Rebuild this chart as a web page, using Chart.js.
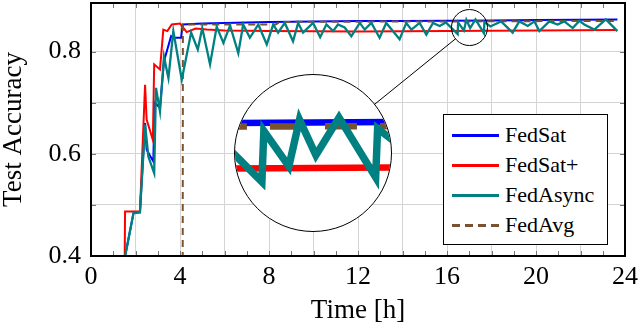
<!DOCTYPE html>
<html>
<head>
<meta charset="utf-8">
<script src="https://cdn.jsdelivr.net/npm/chart.js@4/dist/chart.umd.min.js"></script>
<style>
  html, body { margin:0; padding:0; background:#fff; }
  #wrap { position:relative; width:640px; height:326px; }
  #spy { position:absolute; border:1.5px solid #000; border-radius:50%; overflow:hidden; background:#fff; }
  #spy canvas { position:absolute; left:0; top:0; }
  #legend { position:absolute; left:443px; top:114px; width:163px; height:129px; border:1.5px solid #000; background:#fff;
            font-family:'Liberation Serif', 'Times New Roman'; font-size:22px; color:#000; }
  .row { position:absolute; left:7.5px; height:30px; display:flex; align-items:center; white-space:nowrap; }
  .sw { width:47px; height:3px; margin-right:6.5px; }
</style>
</head>
<body>
<div id="wrap">
  <canvas id="c" width="640" height="326"></canvas>
  <div id="spy"><canvas id="z"></canvas></div>
  <div id="legend"></div>
</div>
<script>
// series names / colours
const names  = ['FedSat', 'FedSat+', 'FedAsync', 'FedAvg'];
const colors = ['#0000ff', '#ff0000', '#008080', '#7a5230'];

// time [h] / test accuracy
const fedSatT = [1.49,1.91,2.2,2.43,2.5,2.8,2.86,3.1,3.28,3.6,3.7,4.05,4.12,5,6,8,10,12,14,16,18,20,22,23.66];
const fedSatA = [0.39,0.484,0.486,0.66,0.608,0.585,0.70,0.69,0.781,0.83,0.827,0.827,0.853,0.855,0.856,0.858,0.859,0.86,0.86,0.8605,0.861,0.8615,0.862,0.8625];

const fedSatPT = [1.5,1.53,2.2,2.43,2.5,2.78,2.84,3.1,3.25,3.43,3.63,4.0,4.3,4.7,5.2,6,8,12,16,20,23.6];
const fedSatPA = [0.3,0.487,0.487,0.735,0.667,0.627,0.775,0.765,0.843,0.84,0.853,0.855,0.838,0.845,0.843,0.841,0.84,0.839,0.84,0.841,0.842];

const fedAsyncT = [1.49,1.91,2.2,2.43,2.58,2.84,2.92,3.1,3.28,3.48,3.7,4.08,4.5,4.8,5.0,5.35,5.65,5.95,6.25,6.62,6.84,7.14,7.52,7.9,8.19,8.41,8.71,9.08,9.31,9.53,9.98,10.3,10.58,10.88,11.1,11.4,11.7,12.08,12.3,12.6,12.97,13.27,13.87,14.17,14.4,14.77,15.07,15.37,15.67,15.95,16.48,16.5,16.76,16.87,17.04,17.28,17.66,17.68,17.95,18.43,18.95,19.25,19.63,19.93,20.15,20.6,20.97,21.27,21.65,21.95,22.17,22.62,23.14,23.66];
const fedAsyncA = [0.39,0.484,0.485,0.657,0.594,0.562,0.729,0.683,0.79,0.748,0.84,0.745,0.837,0.804,0.846,0.775,0.849,0.817,0.851,0.797,0.853,0.827,0.853,0.814,0.853,0.837,0.856,0.82,0.856,0.837,0.856,0.828,0.853,0.84,0.853,0.847,0.83,0.856,0.843,0.856,0.827,0.856,0.824,0.856,0.843,0.856,0.833,0.856,0.85,0.857,0.834,0.857,0.841,0.862,0.846,0.863,0.836,0.858,0.849,0.859,0.837,0.859,0.85,0.859,0.84,0.859,0.853,0.859,0.846,0.86,0.853,0.843,0.863,0.84];

const fedAvgT = [4.12,4.13,6,8.3,8.5,12,17,20,23.5];
const fedAvgA = [0.3,0.853,0.853,0.853,0.858,0.8585,0.859,0.8595,0.86];

// axis ranges
const xMin = 0, xMax = 24, yMin = 0.4, yMax = 0.895;
// spy glass: watched spot, lens position, small radius, magnification
const spyAt = [17.01, 0.847];
const spyOn = [10, 0.6];
const spyR = 18, spyZoom = 4.33;

const SERIF = "'Liberation Serif', 'Times New Roman'";
const GRID = '#d4d4d4';

const pts = (t, a) => t.map((v, i) => ({x: v, y: a[i]}));
const seriesData = [pts(fedSatT, fedSatA), pts(fedSatPT, fedSatPA), pts(fedAsyncT, fedAsyncA), pts(fedAvgT, fedAvgA)];
const drawOrder = [3, 2, 0, 1]; // teal on top, then brown, red, blue

function makeSets(w, dash) {
  return seriesData.map((d, i) => ({
    label: names[i], data: d, borderColor: colors[i], backgroundColor: colors[i],
    borderWidth: i === 2 ? w * 1.15 : w, borderDash: i === 3 ? dash : [],
    pointRadius: 0, tension: 0, fill: false, order: drawOrder[i]
  }));
}

const frame = {
  id: 'frame',
  afterDatasetsDraw(chart) {
    const {ctx, chartArea: a, scales: {x, y}} = chart;
    ctx.save();
    // inward tick marks
    ctx.strokeStyle = '#777'; ctx.lineWidth = 1;
    ctx.beginPath();
    for (let h = xMin + 1; h < xMax; h++) {
      const px = Math.round(x.getPixelForValue(h)) + 0.5;
      ctx.moveTo(px, a.bottom); ctx.lineTo(px, a.bottom - 5);
      ctx.moveTo(px, a.top); ctx.lineTo(px, a.top + 5);
    }
    for (let k = 5; k <= 8; k++) {
      const py = Math.round(y.getPixelForValue(k / 10)) + 0.5;
      ctx.moveTo(a.left, py); ctx.lineTo(a.left + 5, py);
      ctx.moveTo(a.right, py); ctx.lineTo(a.right - 5, py);
    }
    ctx.stroke();
    // box
    ctx.strokeStyle = '#000'; ctx.lineWidth = 2;
    ctx.strokeRect(a.left, a.top, a.right - a.left, a.bottom - a.top);
    // spy circle and connector
    const sx = x.getPixelForValue(spyAt[0]), sy = y.getPixelForValue(spyAt[1]);
    const bx = x.getPixelForValue(spyOn[0]), by = y.getPixelForValue(spyOn[1]);
    const R = spyR * spyZoom;
    const dx = bx - sx, dy = by - sy, L = Math.hypot(dx, dy);
    ctx.lineWidth = 1;
    ctx.beginPath(); ctx.arc(sx, sy, spyR, 0, Math.PI * 2); ctx.stroke();
    ctx.beginPath();
    ctx.moveTo(sx + dx / L * spyR, sy + dy / L * spyR);
    ctx.lineTo(bx - dx / L * R, by - dy / L * R);
    ctx.stroke();
    ctx.restore();
  }
};

const main = new Chart(document.getElementById('c'), {
  type: 'line',
  data: {datasets: makeSets(2, [7, 5])},
  options: {
    responsive: false, animation: false,
    layout: {padding: {top: 3, right: 15, left: 0, bottom: 0}},
    plugins: {legend: {display: false}, tooltip: {enabled: false}},
    scales: {
      x: {
        type: 'linear', min: xMin, max: xMax,
        afterFit: s => { s.height = 70; s.paddingLeft = 0; s.paddingRight = 0; },
        border: {display: false},
        grid: {color: c => (c.tick && c.tick.value % 2 === 0) ? GRID : 'rgba(0,0,0,0)', drawTicks: false},
        ticks: {stepSize: 1, autoSkip: false, maxRotation: 0, padding: 6, color: '#000',
                font: {family: SERIF, size: 26}, callback: v => v % 4 === 0 ? String(v) : ''},
        title: {display: true, text: 'Time [h]', color: '#000', font: {family: SERIF, size: 27, lineHeight: 1}, padding: {top: 0, bottom: 2}}
      },
      y: {
        type: 'linear', min: yMin, max: yMax,
        afterFit: s => { s.width = 91; s.paddingTop = 0; s.paddingBottom = 0; },
        border: {display: false},
        grid: {color: c => {
          const v = c.tick ? c.tick.value * 10 : 0.5;
          return Math.abs(v - Math.round(v)) < 1e-6 ? GRID : 'rgba(0,0,0,0)';
        }, drawTicks: false},
        ticks: {stepSize: 0.1, autoSkip: false, padding: 10, color: '#000', font: {family: SERIF, size: 26},
                callback: v => {
                  const k = Math.round(v * 10);
                  return (Math.abs(v * 10 - k) < 1e-6 && k % 2 === 0) ? (k / 10).toFixed(1) : '';
                }},
        title: {display: true, text: 'Test Accuracy', color: '#000', font: {family: SERIF, size: 27, lineHeight: 1}, padding: 0}
      }
    }
  },
  plugins: [frame]
});

// magnified lens
(function () {
  const x = main.scales.x, y = main.scales.y;
  const R = spyR * spyZoom;
  const cx = x.getPixelForValue(spyOn[0]), cy = y.getPixelForValue(spyOn[1]);
  const hx = R / ((x.right - x.left) / (xMax - xMin) * spyZoom);
  const hy = R / ((y.bottom - y.top) / (yMax - yMin) * spyZoom);
  const size = Math.round(2 * R);
  const div = document.getElementById('spy');
  div.style.left = (cx - R - 1.5) + 'px';
  div.style.top = (cy - R - 1.5) + 'px';
  div.style.width = size + 'px';
  div.style.height = size + 'px';
  const cv = document.getElementById('z');
  cv.width = size; cv.height = size;
  new Chart(cv, {
    type: 'line',
    data: {datasets: makeSets(6.5, [32, 23])},
    options: {
      responsive: false, animation: false,
      layout: {padding: 0},
      plugins: {legend: {display: false}, tooltip: {enabled: false}},
      scales: {
        x: {type: 'linear', display: false, min: spyAt[0] - hx, max: spyAt[0] + hx},
        y: {type: 'linear', display: false, min: spyAt[1] - hy, max: spyAt[1] + hy}
      }
    }
  });
})();

// legend
(function () {
  const lg = document.getElementById('legend');
  names.forEach((n, i) => {
    const row = document.createElement('div');
    row.className = 'row';
    row.style.top = (5 + i * 30) + 'px';
    const sw = document.createElement('span');
    sw.className = 'sw';
    sw.style.background = i === 3
      ? `repeating-linear-gradient(90deg, ${colors[i]} 0 8px, transparent 8px 13px)`
      : colors[i];
    row.appendChild(sw);
    row.appendChild(document.createTextNode(n));
    lg.appendChild(row);
  });
})();
</script>
</body>
</html>
